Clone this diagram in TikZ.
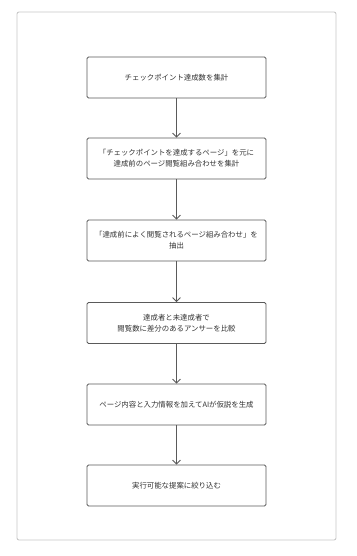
\documentclass[tikz,border=0pt]{standalone}
\usepackage{fontspec}
\newfontfamily\cjk{Noto Sans CJK JP}
\usetikzlibrary{arrows.meta}
\definecolor{boxline}{HTML}{5A5A5A}
\definecolor{frameline}{HTML}{C8C8C8}
\definecolor{txt}{HTML}{333333}
\begin{document}
\begin{tikzpicture}[x=1pt,y=-1pt,
  stepbox/.style={draw=boxline,line width=0.8pt,rounded corners=1.5pt,minimum width=179pt,minimum height=41pt,align=center,font=\cjk\fontsize{7.4}{11}\selectfont,text=txt,inner sep=0pt},
  conn/.style={draw=boxline,line width=0.8pt,-{Straight Barb[length=4pt,width=8pt,line width=0.8pt]}}]
\useasboundingbox (0,0) rectangle (356,556);
\fill[white] (0,0) rectangle (356,556);
\draw[frameline,line width=0.9pt,rounded corners=2pt] (17,12) rectangle (336,540);
\node[stepbox] (s1) at (176.5,77.5) {チェックポイント達成数を集計};
\node[stepbox] (s2) at (176.5,158.5) {「チェックポイントを達成するページ」を元に\\達成前のページ閲覧組み合わせを集計};
\node[stepbox] (s3) at (176.5,240.5) {「達成前によく閲覧されるページ組み合わせ」を\\抽出};
\node[stepbox] (s4) at (176.5,323) {達成者と未達成者で\\閲覧数に差分のあるアンサーを比較};
\node[stepbox] (s5) at (176.5,404.5) {ページ内容と入力情報を加えてAIが仮説を生成};
\node[stepbox] (s6) at (176.5,485.5) {実行可能な提案に絞り込む};
\draw[conn] (s1) -- (s2);
\draw[conn] (s2) -- (s3);
\draw[conn] (s3) -- (s4);
\draw[conn] (s4) -- (s5);
\draw[conn] (s5) -- (s6);
\end{tikzpicture}
\end{document}
